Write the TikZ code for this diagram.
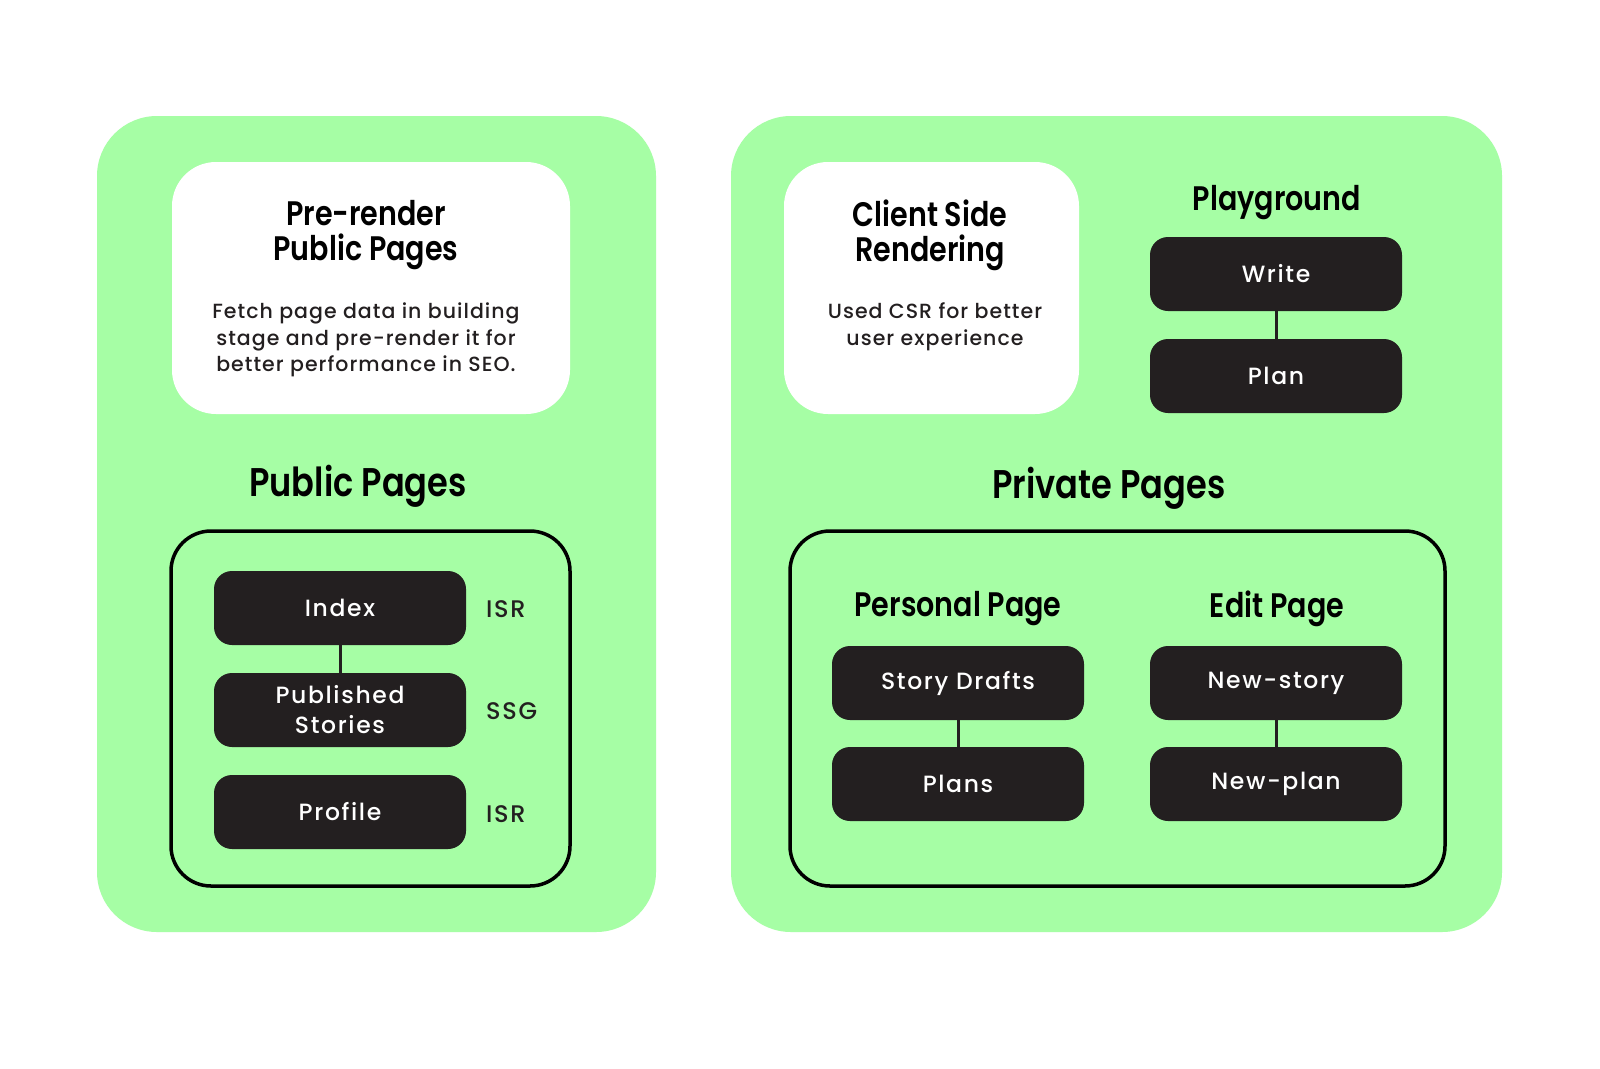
\documentclass[tikz,border=0pt]{standalone}
\usepackage{fontspec}
\setmainfont{Poppins}
\newfontfamily\titlefont[FakeStretch=0.84]{Poppins SemiBold}
\newfontfamily\bodyfont[LetterSpace=5]{Poppins Medium}
\newfontfamily\boxfont[LetterSpace=7]{Poppins Medium}
\definecolor{panel}{HTML}{A6FEA5}
\definecolor{ink}{HTML}{231F20}
\tikzset{
  panelbox/.style={fill=panel, draw=none, rounded corners=60pt},
  notebox/.style={fill=white, draw=none, rounded corners=44pt},
  groupbox/.style={draw=black, line width=3.5pt, rounded corners=40pt},
  pagebox/.style={fill=ink, draw=none, rounded corners=18pt, minimum width=252pt,
    minimum height=74pt, text=white, align=center, inner sep=0pt,
    font=\boxfont\fontsize{23.5}{30}\selectfont},
  conn/.style={draw=ink, line width=3pt},
  headline/.style={font=\titlefont\fontsize{34}{36}\selectfont, align=center, text=black},
  bighead/.style={font=\titlefont\fontsize{40}{42}\selectfont, text=black},
  bodytext/.style={font=\bodyfont\fontsize{20.5}{26.5}\selectfont, align=center, text=ink},
  tag/.style={font=\boxfont\fontsize{24}{26}\selectfont, text=ink, anchor=west, inner sep=0pt}
}
\begin{document}
\begin{tikzpicture}[x=1pt,y=-1pt]
\useasboundingbox (0,0) rectangle (1600,1068);
\fill[white] (0,0) rectangle (1600,1068);

% two green panels
\path[panelbox] (97,116) rectangle (656,932);
\path[panelbox] (731,116) rectangle (1502,932);

% white note cards
\path[notebox] (172,162) rectangle (570,414);
\path[notebox] (784,162) rectangle (1079,414);

% left note
\node[headline] (prerender) at (366,235) {Pre-render\\[-1pt]Public Pages};
\node[bodytext] (prenote) at (366,340) {Fetch page data in building\\stage and pre-render it for\\better performance in SEO.};

% right note
\node[headline] (csr) at (930,235) {Client Side\\[-1pt]Rendering};
\node[bodytext] (csrnote) at (935,327) {Used CSR for better\\user experience};

% playground
\node[headline] (playground) at (1277,203) {Playground};
\node[pagebox] (write) at (1276,274) {Write};
\node[pagebox] (plan) at (1276,376) {Plan};
\draw[conn] (write) -- (plan);

% section headings
\node[bighead] (public) at (358,486) {Public Pages};
\node[bighead] (private) at (1109,488) {Private Pages};

% group outlines
\path[groupbox] (171,531) rectangle (570,886);
\path[groupbox] (790,531) rectangle (1445,886);

% public pages
\node[pagebox] (index) at (340,608) {Index};
\node[pagebox] (published) at (340,710) {Published\\Stories};
\node[pagebox] (profile) at (340,812) {Profile};
\draw[conn] (index) -- (published);
\node[tag] (isrA) at (486,609) {ISR};
\node[tag] (ssg) at (486,711) {SSG};
\node[tag] (isrB) at (486,814) {ISR};

% private pages
\node[headline] (personal) at (958,609) {Personal Page};
\node[headline] (edit) at (1277,609) {Edit Page};
\node[pagebox] (drafts) at (958,683) {Story Drafts};
\node[pagebox] (plans) at (958,784) {Plans};
\draw[conn] (drafts) -- (plans);
\node[pagebox] (newstory) at (1276,683) {New-story};
\node[pagebox] (newplan) at (1276,784) {New-plan};
\draw[conn] (newstory) -- (newplan);
\end{tikzpicture}
\end{document}
